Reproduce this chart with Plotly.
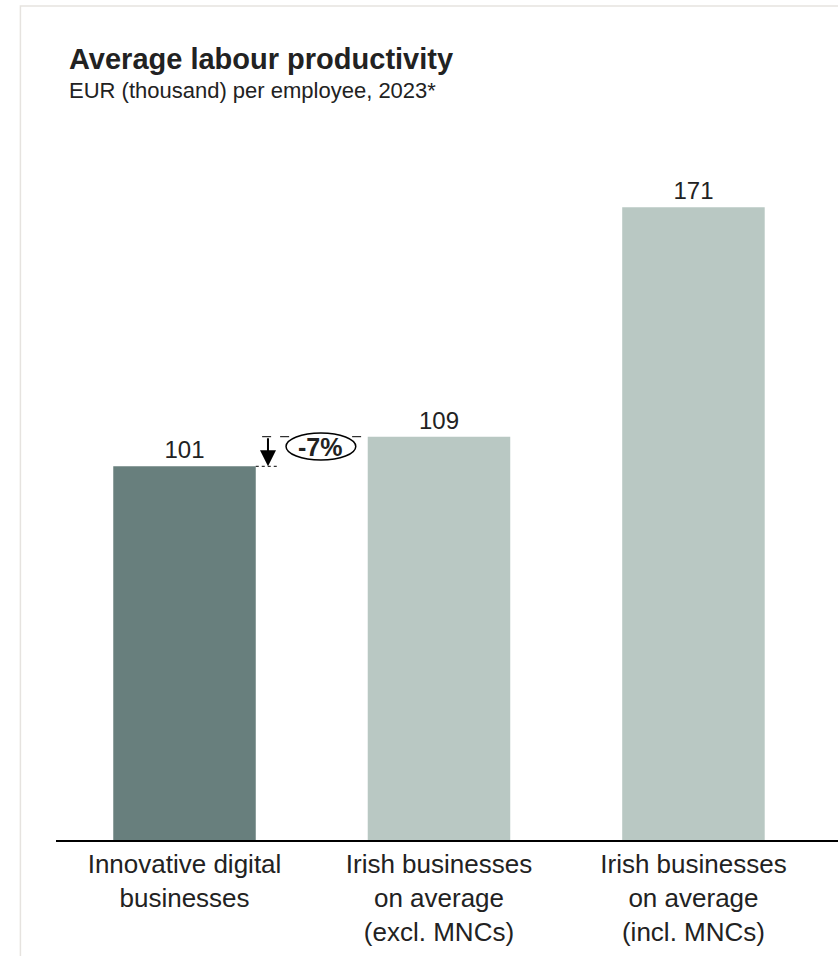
import plotly.graph_objects as go

categories = ["Innovative digital<br>businesses",
              "Irish businesses<br>on average<br>(excl. MNCs)",
              "Irish businesses<br>on average<br>(incl. MNCs)"]
values = [101, 109, 171]
colors = ["#687f7d", "#b9c8c3", "#b9c8c3"]
diff_label = "-7%"

FONT = "Liberation Sans, Arial, sans-serif"
TXT = "#222222"

xpos = list(range(len(values)))

fig = go.Figure()
fig.add_trace(go.Bar(
    x=xpos, y=values, width=0.56,
    marker=dict(color=colors, line=dict(width=0)),
    text=[str(v) for v in values], textposition="outside",
    textfont=dict(family=FONT, size=24, color=TXT),
    cliponaxis=False, hoverinfo="skip",
))

# comparison annotation between bar 0 and bar 1
v0, v1 = values[0], values[1]
ax_x = xpos[0] + 0.328
fig.add_shape(type="line", x0=xpos[0] + 0.305, x1=xpos[1] - 0.28, y0=v1, y1=v1,
              line=dict(color="black", width=1, dash="dash"))
fig.add_shape(type="line", x0=xpos[0] + 0.28, x1=xpos[0] + 0.365, y0=v0, y1=v0,
              line=dict(color="black", width=1, dash="dot"))
fig.add_annotation(x=ax_x, y=v0, ax=ax_x, ay=v1, xref="x", yref="y",
                   axref="x", ayref="y", showarrow=True, arrowhead=2,
                   arrowsize=1.6, arrowwidth=2, arrowcolor="black", text="")
cx = xpos[0] + 0.536
cy = (v0 + v1) / 2 + 1.3
fig.add_shape(type="circle", x0=cx - 0.137, x1=cx + 0.137,
              y0=cy - 3.6, y1=cy + 3.7,
              fillcolor="white", line=dict(color="black", width=1.5))
fig.add_annotation(x=cx - 0.003, y=cy, text="<b>%s</b>" % diff_label,
                   showarrow=False, font=dict(family=FONT, size=25, color=TXT))

# title and subtitle
fig.add_annotation(x=0.0147, y=1.0, xref="paper", yref="paper", xanchor="left",
                   yanchor="bottom", yshift=23, showarrow=False,
                   text="<b>Average labour productivity</b>",
                   font=dict(family=FONT, size=29, color=TXT))
fig.add_annotation(x=0.0147, y=1.0, xref="paper", yref="paper", xanchor="left",
                   yanchor="bottom", yshift=-5.5, showarrow=False,
                   text="EUR (thousand) per employee, 2023*",
                   font=dict(family=FONT, size=22, color=TXT))

# outer frame
fig.add_shape(type="rect", xref="paper", yref="paper", x0=-0.0455, x1=1.05,
              y0=-0.3, y1=1.127, line=dict(color="#e6e3df", width=1.5),
              fillcolor="rgba(0,0,0,0)", layer="below")

fig.update_layout(
    width=838, height=956,
    margin=dict(l=56, r=0, t=100, b=116),
    paper_bgcolor="white", plot_bgcolor="white",
    showlegend=False,
    font=dict(family=FONT, color=TXT),
    bargap=0.44,
)
fig.update_xaxes(range=[-0.505, 2.568], tickvals=xpos, ticktext=categories,
                 showgrid=False, zeroline=False, showline=True, linecolor="black",
                 linewidth=2, ticks="", tickfont=dict(family=FONT, size=26, color=TXT),
                 fixedrange=True)
fig.update_yaxes(range=[0, 200], visible=False, showgrid=False, zeroline=False,
                 fixedrange=True)

fig.write_html("out.html")
